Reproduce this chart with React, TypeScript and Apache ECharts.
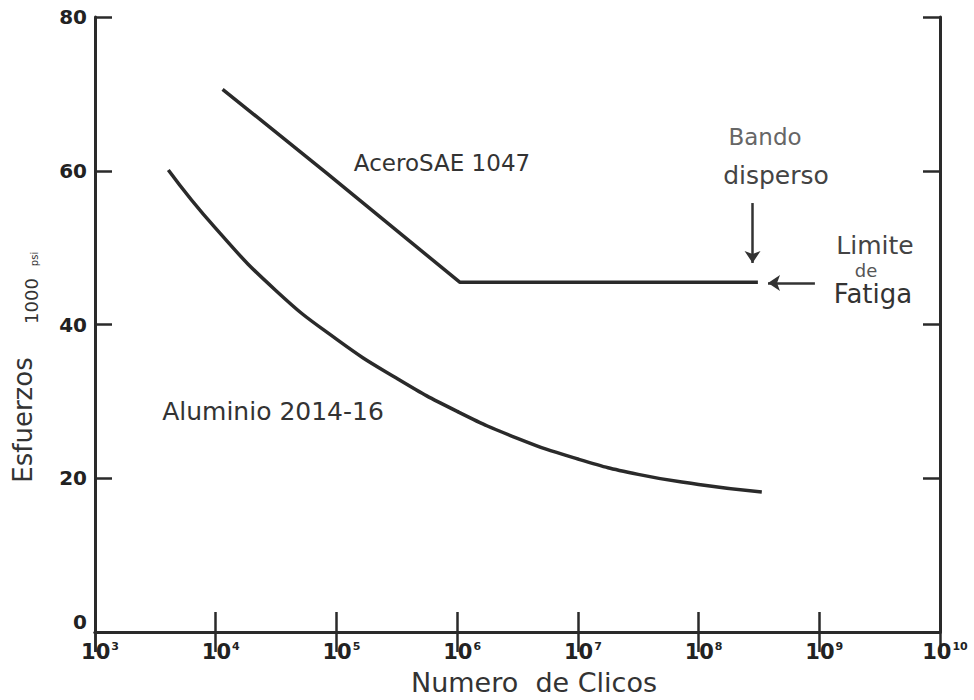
import React, { useEffect, useRef } from "react";
import * as echarts from "echarts";

// ---- data ----
const xMin = 1e3;
const xMax = 1e10;
const yMin = 0;
const yMax = 80;
const yInterval = 20;

const aceroCycles = [1.14e4, 8.3e4, 1.05e6, 3.1e8];
const aceroStress = [70.6, 59.7, 45.5, 45.5];

const aluCycles = [4.05e3, 1e4, 3.16e4, 1e5, 3.16e5, 1e6, 3.16e6, 1e7, 3.16e7, 1e8, 3.34e8];
const aluStress = [60.1, 52.5, 44.4, 38.1, 33.0, 28.7, 25.2, 22.5, 20.5, 19.2, 18.2];

// annotation arrows (data coordinates)
const bandoArrowCycles = [2.8e8, 2.8e8];
const bandoArrowStress = [55.8, 48.0];
const limiteArrowCycles = [9.2e8, 3.76e8];
const limiteArrowStress = [45.4, 45.4];

const seriesNames = ["AceroSAE 1047", "Aluminio 2014-16"];
const xName = "Numero  de Clicos";
const yNameParts = ["Esfuerzos", "1000", "psi"];

const INK = "#2a2a2a";
const FONT = "DejaVu Sans, Liberation Sans, sans-serif";

export default function App() {
  const ref = useRef<HTMLDivElement>(null);
  useEffect(() => {
    document.body.style.margin = "0";
    if (!ref.current) return;
    const chart = echarts.init(ref.current, undefined, { renderer: "svg" });

    const axisLine = { show: true, lineStyle: { color: INK, width: 3 } };
    const xTick = { show: true, inside: true, length: 20, lineStyle: { color: INK, width: 2.5 } };
    const yTick = { show: true, inside: true, length: 17, lineStyle: { color: INK, width: 2.5 } };

    const txt = (x: number, y: number, text: string, fontSize: number, fill: string, extra: any = {}) => ({
      type: "text",
      x,
      y,
      ...extra,
      style: { text, fontSize, fontFamily: FONT, fill, align: "center", verticalAlign: "middle" },
    });

    const option: any = {
      animation: false,
      backgroundColor: "#ffffff",
      grid: { left: 95, right: 34, top: 17, bottom: 68, containLabel: false },
      xAxis: [
        {
          type: "log",
          logBase: 10,
          min: xMin,
          max: xMax,
          splitNumber: 7,
          position: "bottom",
          axisLine,
          axisTick: xTick,
          splitLine: { show: false },
          axisLabel: {
            margin: 9,
            formatter: (v: number) => `{b|10}{s|${Math.round(Math.log10(v))}}`,
            rich: {
              b: { fontSize: 21, fontWeight: "bold", color: "#222", fontFamily: FONT, padding: [0, 0, 0, 10] },
              s: { fontSize: 11, fontWeight: "bold", color: "#222", fontFamily: FONT, verticalAlign: "top", padding: [0, 0, 0, 1] },
            },
          },
        },
        {
          type: "log",
          logBase: 10,
          min: xMin,
          max: xMax,
          splitNumber: 7,
          position: "top",
          axisLine,
          axisTick: xTick,
          splitLine: { show: false },
          axisLabel: { show: false },
        },
      ],
      yAxis: [
        {
          type: "value",
          min: yMin,
          max: yMax,
          interval: yInterval,
          position: "left",
          axisLine,
          axisTick: yTick,
          splitLine: { show: false },
          axisLabel: {
            margin: 8,
            formatter: (v: number) => (v === 0 ? `{z|${v}}` : `{n|${v}}`),
            rich: {
              n: { fontSize: 20, fontWeight: "bold", color: "#222", fontFamily: FONT },
              z: { fontSize: 20, fontWeight: "bold", color: "#222", fontFamily: FONT, padding: [0, 0, 20, 0] },
            },
          },
        },
        {
          type: "value",
          min: yMin,
          max: yMax,
          interval: yInterval,
          position: "right",
          axisLine,
          axisTick: yTick,
          splitLine: { show: false },
          axisLabel: { show: false },
        },
      ],
      series: [
        {
          name: seriesNames[0],
          type: "line",
          data: aceroCycles.map((n, i) => [n, aceroStress[i]]),
          showSymbol: false,
          symbol: "none",
          lineStyle: { color: INK, width: 3.5 },
          markLine: {
            silent: true,
            symbol: ["none", "arrow"],
            symbolSize: 12,
            label: { show: false },
            lineStyle: { color: "#333", width: 2.5, type: "solid" },
            data: [
              [
                { coord: [bandoArrowCycles[0], bandoArrowStress[0]] },
                { coord: [bandoArrowCycles[1], bandoArrowStress[1]] },
              ],
              [
                { coord: [limiteArrowCycles[0], limiteArrowStress[0]] },
                { coord: [limiteArrowCycles[1], limiteArrowStress[1]] },
              ],
            ],
          },
        },
        {
          name: seriesNames[1],
          type: "line",
          data: aluCycles.map((n, i) => [n, aluStress[i]]),
          smooth: 0.5,
          showSymbol: false,
          symbol: "none",
          lineStyle: { color: INK, width: 3.5 },
        },
      ],
      graphic: [
        txt(442, 163, seriesNames[0], 23, "#333"),
        txt(273, 411, seriesNames[1], 25, "#333"),
        txt(765, 137, "Bando", 23, "#666"),
        txt(776, 175, "disperso", 25, "#444"),
        txt(875, 245, "Limite", 25, "#444"),
        txt(866, 270, "de", 18, "#555"),
        txt(873, 294, "Fatiga", 26, "#333"),
        txt(534, 682, xName, 27, "#333"),
        txt(23, 420, yNameParts[0], 26, "#333", { rotation: Math.PI / 2 }),
        txt(31, 301, yNameParts[1], 18, "#333", { rotation: Math.PI / 2 }),
        txt(34, 259, yNameParts[2], 10, "#333", { rotation: Math.PI / 2 }),
      ],
    };

    chart.setOption(option);
    return () => chart.dispose();
  }, []);

  return <div ref={ref} style={{ width: 974, height: 700 }} />;
}
